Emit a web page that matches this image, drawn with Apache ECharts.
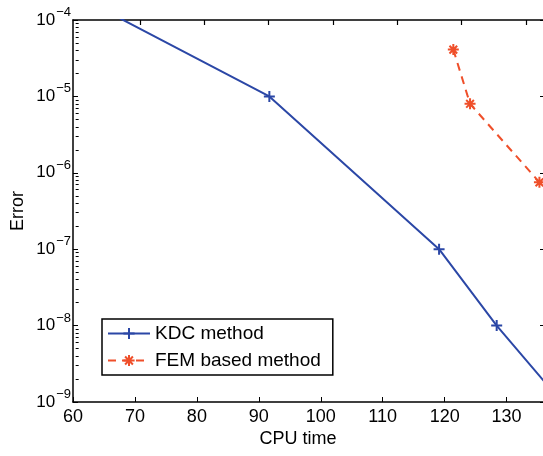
<!DOCTYPE html>
<html>
<head>
<meta charset="utf-8">
<script src="https://cdn.jsdelivr.net/npm/echarts@6/dist/echarts.min.js"></script>
<style>html,body{margin:0;padding:0;background:#fff}#c{width:543px;height:456px}</style>
</head>
<body>
<div id="c"></div>
<script>
// ---- data ----
const kdcTime  = [44.5, 91.7, 119.1, 128.4, 138.9];
const kdcError = [1e-3, 1e-5, 1e-7, 1e-8, 1e-9];
const femTime  = [121.4, 124.1, 135.3];
const femError = [4.1e-5, 8.0e-6, 7.5e-7];
const seriesNames = ['KDC method', 'FEM based method'];
const xTickValues = [60, 70, 80, 90, 100, 110, 120, 130];
const topTickValues = [10, 20, 30, 40, 50, 60, 70];
const yDecades = [-9, -8, -7, -6, -5, -4];
const minorMantissas = [2, 3, 4, 5, 6, 7, 8, 9];

const minorTicks = [];
for (let d = -9; d < -4; d++) for (const m of minorMantissas) minorTicks.push(m * Math.pow(10, d));

const FONT = '"Liberation Sans", Arial, Helvetica, sans-serif';
const BLUE = '#2b47a6';
const RED = '#ef4f2a';
const PLUS = 'path://M5,0L5,10M0,5L10,5';
const STAR = 'path://M5,0L5,10M0,5L10,5M1.5,1.5L8.5,8.5M1.5,8.5L8.5,1.5';

const chart = echarts.init(document.getElementById('c'), null, {renderer: 'canvas'});
chart.setOption({
  animation: false,
  backgroundColor: '#fff',
  textStyle: {fontFamily: FONT},
  grid: {left: 73, top: 20, right: -2, bottom: 54, containLabel: false, outerBoundsMode: 'none'},
  legend: {
    orient: 'vertical', left: 102, top: 319,
    data: seriesNames,
    backgroundColor: '#fff', borderColor: '#000', borderWidth: 1.5, borderRadius: 0,
    padding: [5, 12, 5, 5], itemGap: 8, itemWidth: 42, itemHeight: 14, itemTextGap: 5,
    textStyle: {fontSize: 19, color: '#000', fontFamily: FONT},
    z: 10
  },
  xAxis: [{
    type: 'value', position: 'bottom', min: 60, max: 136.2, interval: 10,
    name: 'CPU time', nameLocation: 'middle', nameGap: 28, nameMoveOverlap: false,
    nameTextStyle: {fontSize: 18, color: '#000', fontFamily: FONT, padding: [0, 22, 0, 0]},
    axisLine: {show: true, onZero: false, lineStyle: {color: '#000', width: 1.5}},
    axisTick: {show: true, inside: true, length: 5, lineStyle: {color: '#000', width: 1}},
    axisLabel: {fontSize: 18, color: '#000', margin: 6, fontFamily: FONT,
      formatter: v => (xTickValues.indexOf(v) >= 0 ? String(v) : '')},
    splitLine: {show: false}
  }, {
    type: 'value', position: 'top', min: -0.415, max: 72.96,
    axisLine: {show: true, onZero: false, lineStyle: {color: '#000', width: 1.5}},
    axisTick: {show: true, inside: true, length: 5, customValues: topTickValues, lineStyle: {color: '#000', width: 1.2}},
    axisLabel: {show: false},
    splitLine: {show: false}
  }],
  yAxis: [{
    type: 'log', logBase: 10, min: 1e-9, max: 1e-4, interval: 1,
    position: 'left',
    name: 'Error', nameLocation: 'middle', nameGap: 46, nameRotate: 90, nameMoveOverlap: false,
    nameTextStyle: {fontSize: 18, color: '#000', fontFamily: FONT},
    axisLine: {show: true, onZero: false, lineStyle: {color: '#000', width: 1.5}},
    axisTick: {show: true, inside: true, length: 5, lineStyle: {color: '#000', width: 1}},
    axisLabel: {
      margin: 2, color: '#000',
      formatter: v => '{b|10}{e|\u2212' + (-Math.round(Math.log10(v))) + '}',
      rich: {
        b: {fontSize: 17, lineHeight: 18, fontFamily: FONT, color: '#000'},
        e: {fontSize: 13, lineHeight: 13, padding: [0, 0, 15, 1], fontFamily: FONT, color: '#000'}
      }
    },
    splitLine: {show: false}
  }, {
    type: 'log', logBase: 10, min: 1e-9, max: 1e-4, position: 'left',
    axisLine: {show: false},
    axisTick: {show: true, inside: true, length: 3, customValues: minorTicks, lineStyle: {color: '#000', width: 1}},
    axisLabel: {show: false},
    splitLine: {show: false}
  }, {
    type: 'log', logBase: 10, min: 1e-9, max: 1e-4, interval: 1, position: 'right',
    axisLine: {show: true, onZero: false, lineStyle: {color: '#000', width: 1.5}},
    axisTick: {show: true, inside: true, length: 5, lineStyle: {color: '#000', width: 1}},
    axisLabel: {show: false},
    splitLine: {show: false}
  }],
  series: [{
    name: seriesNames[0], type: 'line', xAxisIndex: 0, yAxisIndex: 0,
    data: kdcTime.map((t, i) => [t, kdcError[i]]),
    symbol: PLUS, symbolSize: 11, showAllSymbol: true,
    lineStyle: {color: BLUE, width: 2},
    itemStyle: {color: BLUE, borderColor: BLUE, borderWidth: 2},
    emphasis: {disabled: true}, clip: true
  }, {
    name: seriesNames[1], type: 'line', xAxisIndex: 0, yAxisIndex: 0,
    data: femTime.map((t, i) => [t, femError[i]]),
    symbol: STAR, symbolSize: 11, showAllSymbol: true,
    lineStyle: {color: RED, width: 2, type: [8, 6]},
    itemStyle: {color: RED, borderColor: RED, borderWidth: 2},
    emphasis: {disabled: true}, clip: true
  }]
});
</script>
</body>
</html>
